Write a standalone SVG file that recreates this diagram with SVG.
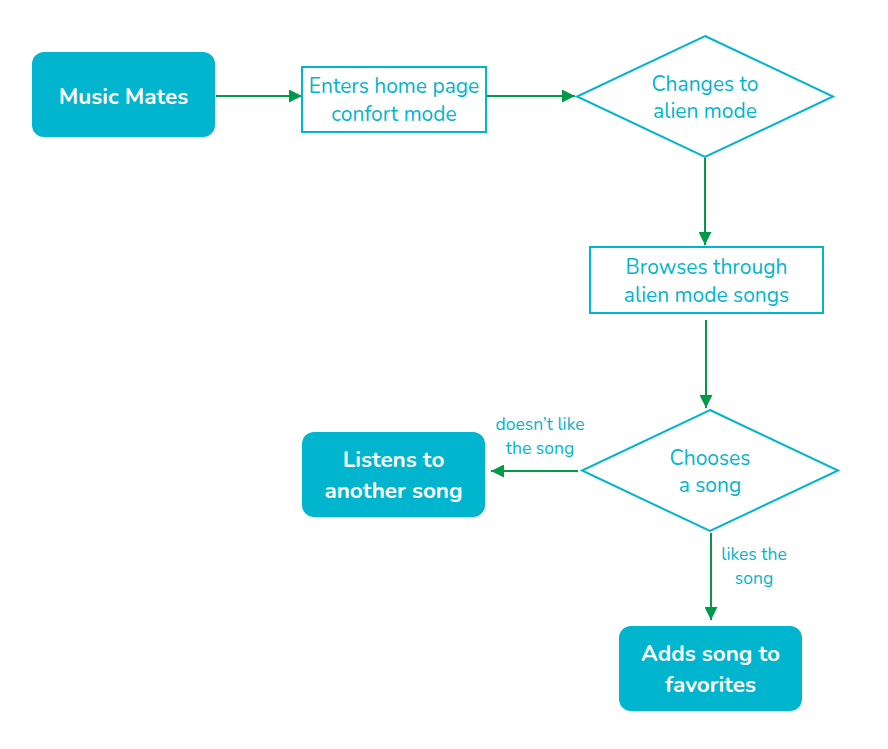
<svg xmlns="http://www.w3.org/2000/svg" width="888" height="749" viewBox="0 0 888 749">
  <style>
    .term { fill: #00b5cd; }
    .term-text { fill: #ffffff; font-family: "Nunito", "Lato", "Open Sans", sans-serif; font-weight: bold; font-size: 22.5px; text-anchor: middle; }
    .step { fill: #ffffff; stroke: #00b5cd; stroke-width: 2; }
    .step-text { fill: #00b5cd; font-family: "Nunito", "Lato", "Open Sans", sans-serif; font-size: 21px; text-anchor: middle; }
    .label { fill: #00b5cd; font-family: "Nunito", "Lato", "Open Sans", sans-serif; font-size: 17.5px; text-anchor: middle; }
    .edge { stroke: #009a48; stroke-width: 2; fill: none; marker-end: url(#arrow); }
  </style>
  <defs>
    <marker id="arrow" viewBox="0 0 10 10" refX="10" refY="5" markerWidth="6.5" markerHeight="6.5" markerUnits="strokeWidth" orient="auto">
      <path d="M0,0 L10,5 L0,10 z" fill="#009a48"/>
    </marker>
  </defs>

  <g id="connectors">
    <line class="edge" x1="216" y1="96" x2="302" y2="96"/>
    <line class="edge" x1="487" y1="96" x2="575" y2="96"/>
    <line class="edge" x1="705" y1="158" x2="705" y2="245"/>
    <line class="edge" x1="706" y1="320" x2="706" y2="408"/>
    <line class="edge" x1="578" y1="471" x2="491" y2="471"/>
    <line class="edge" x1="711" y1="533" x2="711" y2="620"/>
    <text class="label" x="540" y="430">doesn’t like</text>
    <text class="label" x="540" y="454">the song</text>
    <text class="label" x="754" y="560">likes the</text>
    <text class="label" x="754" y="584">song</text>
  </g>

  <g id="music-mates">
    <rect class="term" x="32" y="52" width="183" height="85" rx="12"/>
    <text class="term-text" x="123.5" y="104">Music Mates</text>
  </g>

  <g id="enters-home">
    <rect class="step" x="302" y="67" width="184" height="65"/>
    <text class="step-text" x="394" y="93">Enters home page</text>
    <text class="step-text" x="394" y="121">confort mode</text>
  </g>

  <g id="changes-alien">
    <polygon class="step" points="705,36 833,96.5 705,157 577,96.5"/>
    <text class="step-text" x="705" y="91">Changes to</text>
    <text class="step-text" x="705" y="118">alien mode</text>
  </g>

  <g id="browses">
    <rect class="step" x="590" y="247" width="233" height="66"/>
    <text class="step-text" x="706.5" y="274">Browses through</text>
    <text class="step-text" x="706.5" y="302">alien mode songs</text>
  </g>

  <g id="chooses">
    <polygon class="step" points="710,410 838,470.5 710,531 582,470.5"/>
    <text class="step-text" x="710" y="465">Chooses</text>
    <text class="step-text" x="710" y="492">a song</text>
  </g>

  <g id="listens">
    <rect class="term" x="302" y="432" width="183" height="85" rx="12"/>
    <text class="term-text" x="393.5" y="467">Listens to</text>
    <text class="term-text" x="393.5" y="498">another song</text>
  </g>

  <g id="adds-favorites">
    <rect class="term" x="619" y="626" width="183" height="85" rx="12"/>
    <text class="term-text" x="710.5" y="661">Adds song to</text>
    <text class="term-text" x="710.5" y="692">favorites</text>
  </g>
</svg>
